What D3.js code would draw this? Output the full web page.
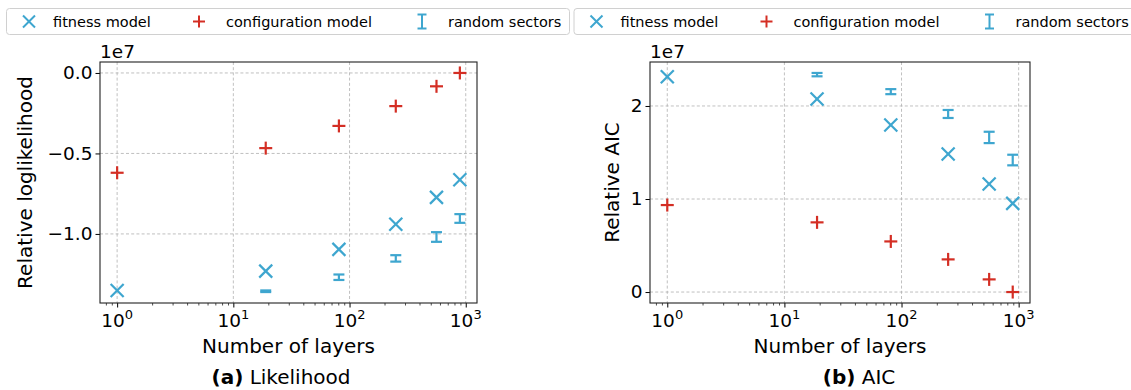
<!DOCTYPE html>
<html><head><meta charset="utf-8">
<script src="https://cdn.jsdelivr.net/npm/d3@7"></script>
<style>
body{margin:0;background:#fff}
svg{display:block;font-family:"DejaVu Sans",sans-serif}
</style>
</head><body>
<svg id="c" width="1131" height="390"></svg>
<script>
// ---------- data (values in units of 1e7) ----------
const layers = [1, 19, 81, 250, 560, 890];
const likeFitness = [-1.352, -1.231, -1.096, -0.940, -0.773, -0.664];
const likeConfig = [-0.620, -0.467, -0.329, -0.206, -0.083, 0.0];
const likeRandom = [null, -1.356, -1.269, -1.152, -1.019, -0.904];
const likeRandomErr = [null, 0.005, 0.017, 0.020, 0.030, 0.027];
const aicFitness = [2.315, 2.075, 1.796, 1.484, 1.161, 0.953];
const aicConfig = [0.935, 0.749, 0.544, 0.351, 0.136, 0.0];
const aicRandom = [null, 2.337, 2.154, 1.914, 1.662, 1.419];
const aicRandomErr = [null, 0.018, 0.027, 0.043, 0.061, 0.057];
const xTicks = [1, 10, 100, 1000];
const xTickExp = ["0", "1", "2", "3"];
const likeTicks = [0, -0.5, -1.0];
const likeTickLabels = ["0.0", "\u22120.5", "\u22121.0"];
const aicTicks = [0, 1, 2];
const aicTickLabels = ["0", "1", "2"];
const legendLabels = ["fitness model", "configuration model", "random sectors"];
const yLabels = ["Relative loglikelihood", "Relative AIC"];
const captionTags = ["(a)", "(b)"];
const captionTexts = ["Likelihood", "AIC"];

// ---------- style ----------
const BLUE = "#3ea6cf", RED = "#d42e24";
const svg = d3.select("#c");

function drawPanel(cfg) {
  const {x0, x1, y0, y1, fit, conf, rnd, rndErr, ticks, tickLabels, ylabel, tag, text, capX} = cfg;
  const g = svg.append("g");
  const lo = Math.log10(d3.min(layers)), hi = Math.log10(d3.max(layers));
  const px = 0.05 * (hi - lo);
  const x = d3.scaleLog().domain([Math.pow(10, lo - px), Math.pow(10, hi + px)]).range([x0, x1]);
  const lows = [], highs = [];
  layers.forEach((d, i) => {
    lows.push(fit[i], conf[i]); highs.push(fit[i], conf[i]);
    if (rnd[i] != null) { lows.push(rnd[i] - rndErr[i]); highs.push(rnd[i] + rndErr[i]); }
  });
  const ymin = d3.min(lows), ymax = d3.max(highs), py = 0.05 * (ymax - ymin);
  const y = d3.scaleLinear().domain([ymin - py, ymax + py]).range([y1, y0]);

  const grid = g.append("g").attr("stroke", "#b0b0b0").attr("stroke-width", 0.8).attr("stroke-dasharray", "3,2.2");
  xTicks.forEach(t => grid.append("line").attr("x1", x(t)).attr("x2", x(t)).attr("y1", y0).attr("y2", y1));
  ticks.forEach(t => grid.append("line").attr("x1", x0).attr("x2", x1).attr("y1", y(t)).attr("y2", y(t)));

  const xa = g.append("g").attr("transform", `translate(0,${y1})`)
    .call(d3.axisBottom(x).tickValues(xTicks).tickSize(4.5).tickFormat(""));
  xa.select(".domain").remove();
  xa.selectAll(".tick line").attr("stroke", "#000").attr("stroke-width", 1);
  const minor = [];
  for (let dcd = 0.1; dcd <= 1000; dcd *= 10) for (let k = 2; k <= 9; k++) {
    const v = dcd * k; if (v >= x.domain()[0] && v <= x.domain()[1]) minor.push(v);
  }
  const xm = g.append("g").attr("transform", `translate(0,${y1})`)
    .call(d3.axisBottom(x).tickValues(minor).tickSize(2.5).tickFormat(""));
  xm.select(".domain").remove();
  xm.selectAll(".tick line").attr("stroke", "#000").attr("stroke-width", 0.7);
  xTicks.forEach((t, i) => {
    const tx = g.append("text").attr("x", x(t)).attr("y", y1 + 24).attr("text-anchor", "middle")
      .attr("font-size", 18.5).attr("fill", "#000");
    tx.append("tspan").text("10");
    tx.append("tspan").attr("dy", -8).attr("font-size", 13).text(xTickExp[i]);
  });

  const ya = g.append("g").attr("transform", `translate(${x0},0)`)
    .call(d3.axisLeft(y).tickValues(ticks).tickSize(4.5).tickPadding(3).tickFormat((d, i) => tickLabels[i]));
  ya.select(".domain").remove();
  ya.selectAll(".tick line").attr("stroke", "#000").attr("stroke-width", 1);
  ya.selectAll(".tick text").attr("font-size", 18.5).attr("font-family", "DejaVu Sans").attr("fill", "#000");

  g.append("text").attr("x", x0).attr("y", y0 - 4).attr("font-size", 18.5).text("1e7");

  g.append("rect").attr("x", x0).attr("y", y0).attr("width", x1 - x0).attr("height", y1 - y0)
    .attr("fill", "none").attr("stroke", "#222").attr("stroke-width", 1.1);

  g.append("text").attr("transform", `translate(${cfg.ylx},${(y0 + y1) / 2}) rotate(-90)`)
    .attr("text-anchor", "middle").attr("dominant-baseline", "central").attr("font-size", 20).text(ylabel);
  g.append("text").attr("x", (x0 + x1) / 2).attr("y", 353).attr("text-anchor", "middle")
    .attr("font-size", 20).text("Number of layers");
  const cap = g.append("text").attr("x", capX).attr("y", 384).attr("text-anchor", "middle").attr("font-size", 20);
  cap.append("tspan").attr("font-weight", "bold").text(tag);
  cap.append("tspan").text(" " + text);

  const marks = g.append("g");
  layers.forEach((d, i) => {
    if (rnd[i] == null) return;
    const cx = x(d), ya1 = y(rnd[i] - rndErr[i]), ya2 = y(rnd[i] + rndErr[i]);
    const e = marks.append("g").attr("stroke", BLUE).attr("stroke-width", 2.2);
    e.append("line").attr("x1", cx).attr("x2", cx).attr("y1", ya1).attr("y2", ya2);
    e.append("line").attr("x1", cx - 5.5).attr("x2", cx + 5.5).attr("y1", ya1).attr("y2", ya1);
    e.append("line").attr("x1", cx - 5.5).attr("x2", cx + 5.5).attr("y1", ya2).attr("y2", ya2);
  });
  layers.forEach((d, i) => {
    const cx = x(d), cy = y(fit[i]), s = 6.5;
    const m = marks.append("g").attr("stroke", BLUE).attr("stroke-width", 2.2);
    m.append("line").attr("x1", cx - s).attr("x2", cx + s).attr("y1", cy - s).attr("y2", cy + s);
    m.append("line").attr("x1", cx - s).attr("x2", cx + s).attr("y1", cy + s).attr("y2", cy - s);
  });
  layers.forEach((d, i) => {
    const cx = x(d), cy = y(conf[i]), s = 6.5;
    const m = marks.append("g").attr("stroke", RED).attr("stroke-width", 2.2);
    m.append("line").attr("x1", cx - s).attr("x2", cx + s).attr("y1", cy).attr("y2", cy);
    m.append("line").attr("x1", cx).attr("x2", cx).attr("y1", cy - s).attr("y2", cy + s);
  });
}

function drawLegend(ox) {
  const g = svg.append("g").attr("transform", `translate(${ox},0)`);
  g.append("rect").attr("x", 6.5).attr("y", 8.5).attr("width", 563).attr("height", 26).attr("rx", 3)
    .attr("fill", "#fff").attr("stroke", "#d0d0d0").attr("stroke-width", 1);
  const cy = 21.5;
  const itemX = [29, 199, 422], textX = [53, 226, 448];
  const s = 6;
  const m1 = g.append("g").attr("stroke", BLUE).attr("stroke-width", 2);
  m1.append("line").attr("x1", itemX[0] - s).attr("x2", itemX[0] + s).attr("y1", cy - s).attr("y2", cy + s);
  m1.append("line").attr("x1", itemX[0] - s).attr("x2", itemX[0] + s).attr("y1", cy + s).attr("y2", cy - s);
  const m2 = g.append("g").attr("stroke", RED).attr("stroke-width", 2);
  m2.append("line").attr("x1", itemX[1] - s).attr("x2", itemX[1] + s).attr("y1", cy).attr("y2", cy);
  m2.append("line").attr("x1", itemX[1]).attr("x2", itemX[1]).attr("y1", cy - s).attr("y2", cy + s);
  const m3 = g.append("g").attr("stroke", BLUE).attr("stroke-width", 2);
  m3.append("line").attr("x1", itemX[2]).attr("x2", itemX[2]).attr("y1", cy - 7).attr("y2", cy + 7);
  m3.append("line").attr("x1", itemX[2] - 4.5).attr("x2", itemX[2] + 4.5).attr("y1", cy - 7).attr("y2", cy - 7);
  m3.append("line").attr("x1", itemX[2] - 4.5).attr("x2", itemX[2] + 4.5).attr("y1", cy + 7).attr("y2", cy + 7);
  legendLabels.forEach((t, i) => {
    g.append("text").attr("x", textX[i]).attr("y", cy).attr("dominant-baseline", "central")
      .attr("font-size", 14.5).text(t);
  });
}

drawLegend(0);
drawLegend(567.5);

drawPanel({x0: 100, x1: 477, y0: 62, y1: 303, fit: likeFitness, conf: likeConfig, rnd: likeRandom,
  rndErr: likeRandomErr, ticks: likeTicks, tickLabels: likeTickLabels, ylabel: yLabels[0],
  tag: captionTags[0], text: captionTexts[0], capX: 281, ylx: 25});
drawPanel({x0: 650, x1: 1030, y0: 62, y1: 303, fit: aicFitness, conf: aicConfig, rnd: aicRandom,
  rndErr: aicRandomErr, ticks: aicTicks, tickLabels: aicTickLabels, ylabel: yLabels[1],
  tag: captionTags[1], text: captionTexts[1], capX: 859, ylx: 612});
</script>
</body></html>
